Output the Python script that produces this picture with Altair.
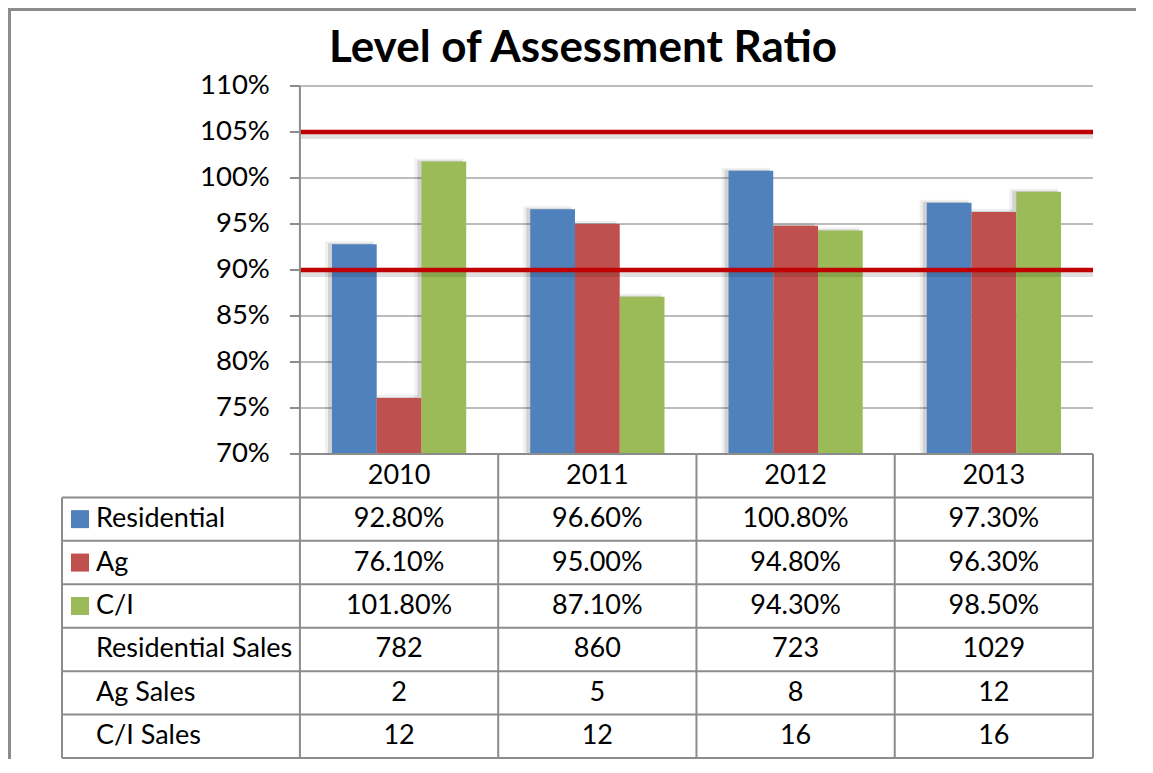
import altair as alt
import pandas as pd

# ---------------- data ----------------
title_text = "Level of Assessment Ratio"
years = ["2010", "2011", "2012", "2013"]
series = ["Residential", "Ag", "C/I"]
residential = [92.8, 96.6, 100.8, 97.3]
ag = [76.1, 95.0, 94.8, 96.3]
ci = [101.8, 87.1, 94.3, 98.5]
residential_sales = [782, 860, 723, 1029]
ag_sales = [2, 5, 8, 12]
ci_sales = [12, 12, 16, 16]
sales_labels = ["Residential Sales", "Ag Sales", "C/I Sales"]
y_ticks = [70, 75, 80, 85, 90, 95, 100, 105, 110]
limit_lines = [105, 90]
colors = ["#4F81BD", "#C0504D", "#9BBB59"]

# ---------------- layout / style ----------------
FONT = "Lato"
W = 1031            # label column + 4 year columns
H_PLOT = 368
H_TABLE = 304
LABEL_COL = 1.2     # label column width, in year-column units
BAR_W = 0.2257
GROUP_PAD = 0.1616
GRID = "#a6a6a6"
LINE = "#8c8c8c"
RED = "#C00000"

xs = alt.Scale(domain=[-LABEL_COL, 4], nice=False, zero=False)
ys = alt.Scale(domain=[70, 110], nice=False, zero=False)
ts = alt.Scale(domain=[0, 7], nice=False, zero=False, reverse=True)
cs = alt.Scale(domain=series, range=colors)


def XD(v):
    return alt.XDatum(v, axis=None, scale=xs)


def X2D(v):
    return alt.X2Datum(v)


# bar data (long)
vals = [residential, ag, ci]
bars = pd.DataFrame(
    [
        {"year": years[i], "i": i, "series": series[j], "j": j, "value": vals[j][i]}
        for i in range(len(years))
        for j in range(len(series))
    ]
)

one = pd.DataFrame({"a": [0]})
ticks_df = pd.DataFrame({"v": y_ticks, "label": [f"{t}%" for t in y_ticks]})
limits_df = pd.DataFrame({"v": limit_lines})

# ---------- top chart: bars ----------
frame_top = alt.Chart(one).mark_rect(color=LINE).encode(
    x=alt.value(-54), x2=alt.value(1074), y=alt.value(-78), y2=alt.value(-75)
)
spacer = alt.Chart(one).mark_rect(color="#ffffff").encode(
    x=alt.value(1079), x2=alt.value(1080), y=alt.value(300), y2=alt.value(301)
)
frame_left = alt.Chart(one).mark_rect(color=LINE).encode(
    x=alt.value(-54), x2=alt.value(-51), y=alt.value(-78), y2=alt.value(H_PLOT + H_TABLE + 1)
)
title = alt.Chart(one).mark_text(
    text=title_text, font=FONT, fontSize=44, fontWeight="bold",
    align="center", baseline="alphabetic", color="black",
).encode(x=alt.value(521), y=alt.value(-24))

grid = alt.Chart(ticks_df).transform_filter("datum.v > 70").mark_rule(
    color=GRID, strokeWidth=1.5
).encode(x=XD(0), x2=X2D(4), y=alt.Y("v:Q", scale=ys, axis=None))

tick_marks = alt.Chart(ticks_df).mark_rule(color=LINE, strokeWidth=2, xOffset=-10).encode(
    x=XD(0), x2=X2D(0), y=alt.Y("v:Q", scale=ys, axis=None)
)

axis_line = alt.Chart(one).mark_rule(color=LINE, strokeWidth=2).encode(
    x=XD(0), y=alt.YDatum(70, axis=None, scale=ys), y2=alt.Y2Datum(110)
)

y_labels = alt.Chart(ticks_df).mark_text(
    align="right", baseline="middle", dx=-30, font=FONT, fontSize=27.5, color="black"
).encode(x=XD(0), y=alt.Y("v:Q", scale=ys, axis=None), text="label:N")

bar_base = alt.Chart(bars).transform_calculate(
    x0=f"datum.i + {GROUP_PAD} + datum.j * {BAR_W}",
    x1=f"datum.i + {GROUP_PAD} + (datum.j + 1) * {BAR_W}",
)

bar_shadow_outer = bar_base.mark_rect(
    color="#000000", opacity=0.06, xOffset=-7, x2Offset=-3, yOffset=-3
).encode(
    x=alt.X("x0:Q", scale=xs, axis=None),
    x2="x1:Q",
    y=alt.Y("value:Q", scale=ys, axis=None),
    y2=alt.Y2Datum(70),
)
bar_shadow = bar_base.mark_rect(
    color="#000000", opacity=0.12, xOffset=-4, x2Offset=-4, yOffset=-1
).encode(
    x=alt.X("x0:Q", scale=xs, axis=None),
    x2="x1:Q",
    y=alt.Y("value:Q", scale=ys, axis=None),
    y2=alt.Y2Datum(70),
)

bar_marks = bar_base.mark_rect().encode(
    x=alt.X("x0:Q", scale=xs, axis=None),
    x2="x1:Q",
    y=alt.Y("value:Q", scale=ys, axis=None),
    y2=alt.Y2Datum(70),
    color=alt.Color("series:N", scale=cs, legend=None),
)

limit_shadow = alt.Chart(limits_df).mark_rule(
    color="#000000", opacity=0.12, strokeWidth=6, yOffset=4
).encode(x=XD(0), x2=X2D(4), y=alt.Y("v:Q", scale=ys, axis=None))

limit_rules = alt.Chart(limits_df).mark_rule(color=RED, strokeWidth=4.5).encode(
    x=XD(0), x2=X2D(4), y=alt.Y("v:Q", scale=ys, axis=None)
)

top = alt.layer(
    frame_top, spacer, frame_left, title, grid, tick_marks, bar_shadow_outer, bar_shadow,
    bar_marks, limit_shadow, limit_rules, axis_line, y_labels,
).properties(width=W, height=H_PLOT)

# ---------- bottom chart: data table ----------
hlines = pd.DataFrame(
    [{"r": r, "x1": 0 if r == 0 else -LABEL_COL, "x2": 4} for r in range(8)]
)
vlines = pd.DataFrame(
    [{"x": x, "r1": 1 if x == -LABEL_COL else 0, "r2": 7} for x in [-LABEL_COL, 0, 1, 2, 3, 4]]
)

row_labels = series + sales_labels
row_values = [residential, ag, ci, residential_sales, ag_sales, ci_sales]
cells = []
for i, y in enumerate(years):
    cells.append({"xc": i + 0.5, "rc": 0.5, "text": y})
for k, vals_k in enumerate(row_values):
    for i, v in enumerate(vals_k):
        txt = f"{v:.2f}%" if k < 3 else str(v)
        cells.append({"xc": i + 0.5, "rc": k + 1.5, "text": txt})
cells = pd.DataFrame(cells)

labels = pd.DataFrame(
    {"label": row_labels, "rc": [k + 1.5 for k in range(len(row_labels))]}
)
swatches = pd.DataFrame({"series": series, "rc": [k + 1.5 for k in range(len(series))]})

h_rules = alt.Chart(hlines).mark_rule(color=LINE, strokeWidth=2).encode(
    x=alt.X("x1:Q", scale=xs, axis=None), x2="x2:Q",
    y=alt.Y("r:Q", scale=ts, axis=None),
)
v_rules = alt.Chart(vlines).mark_rule(color=LINE, strokeWidth=2).encode(
    x=alt.X("x:Q", scale=xs, axis=None),
    y=alt.Y("r1:Q", scale=ts, axis=None), y2="r2:Q",
)
cell_text = alt.Chart(cells).mark_text(
    align="center", baseline="middle", font=FONT, fontSize=27, color="black"
).encode(
    x=alt.X("xc:Q", scale=xs, axis=None),
    y=alt.Y("rc:Q", scale=ts, axis=None),
    text="text:N",
)
label_text = alt.Chart(labels).mark_text(
    align="left", baseline="middle", dx=34, font=FONT, fontSize=27, color="black"
).encode(
    x=XD(-LABEL_COL),
    y=alt.Y("rc:Q", scale=ts, axis=None),
    text="label:N",
)
swatch_marks = alt.Chart(swatches).mark_square(
    size=324, opacity=1, filled=True, xOffset=18
).encode(
    x=XD(-LABEL_COL),
    y=alt.Y("rc:Q", scale=ts, axis=None),
    color=alt.Color("series:N", scale=cs, legend=None),
)

bottom = alt.layer(h_rules, v_rules, cell_text, label_text, swatch_marks).properties(
    width=W, height=H_TABLE
)

chart = (
    alt.vconcat(top, bottom, spacing=0, bounds="flush", padding=0)
    .resolve_scale(y="independent")
    .configure_view(strokeWidth=0)
)

chart.save("out.html", embed_options={"renderer": "svg", "actions": False})
